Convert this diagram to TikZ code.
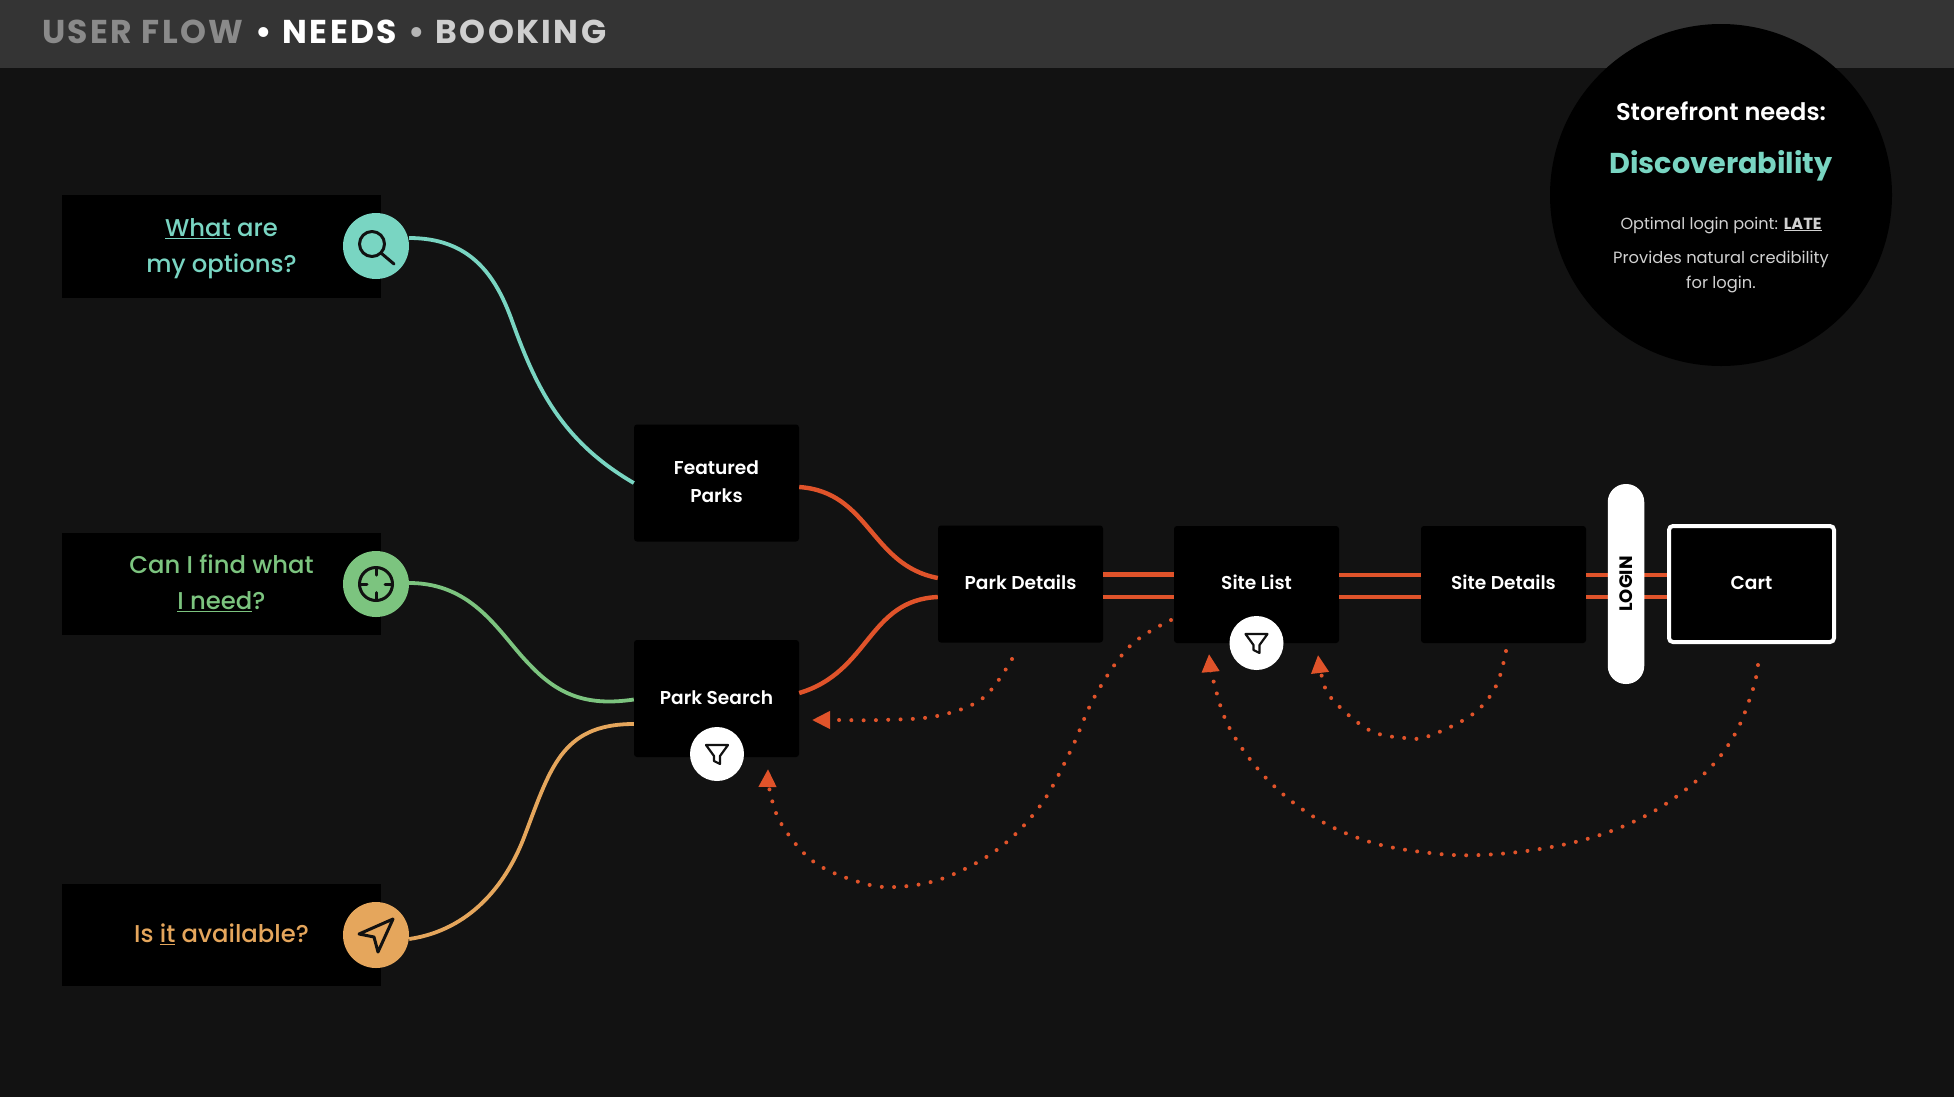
\documentclass[tikz,border=0pt]{standalone}
\usepackage{fontspec}
\setmainfont{Poppins}
\newfontfamily\pmed{Poppins Medium}
\newfontfamily\psemi{Poppins SemiBold}
\newfontfamily\pttl[LetterSpace=7.3]{Poppins}
\usetikzlibrary{arrows.meta,shapes.geometric}
\definecolor{bgc}{HTML}{121212}
\definecolor{hdr}{HTML}{343434}
\definecolor{teal}{HTML}{79D5C2}
\definecolor{grn}{HTML}{7CC47F}
\definecolor{org}{HTML}{E5A65C}
\definecolor{rd}{HTML}{E0532A}
\definecolor{ink}{HTML}{111111}
\tikzset{
  qbox/.style={fill=black,minimum width=319pt,minimum height=102.5pt,inner sep=0pt,align=center,font=\pmed\fontsize{24.3}{36}\selectfont},
  qicon/.style={circle,minimum size=66pt,inner sep=0pt},
  pagebox/.style={fill=black,rounded corners=3pt,minimum width=165pt,minimum height=117pt,inner sep=0pt,text=white,align=center,font=\psemi\fontsize{18.6}{28}\selectfont},
  filt/.style={circle,fill=white,minimum size=54pt,inner sep=0pt},
  iconline/.style={draw=ink,line width=3pt,line cap=round,line join=round},
  funnel/.pic={\draw[draw=ink,line width=2.2pt,line join=round] (-11,-9)--(11,-9)--(3,2)--(3,10)--(-3,7)--(-3,2)--cycle;},
  flow/.style={line width=3.8pt},
  redl/.style={draw=rd,line width=4.4pt},
  dots/.style={draw=rd,line width=4pt,line cap=round,dash pattern=on 0pt off 12.3pt,-{Triangle[length=18pt,width=17pt]}},
  sideline/.style={anchor=base,inner sep=0pt},
}
\begin{document}
\begin{tikzpicture}[x=1pt,y=-1pt]
\useasboundingbox (0,0) rectangle (1954,1096);
\fill[bgc] (-3,-3) rectangle (1957,1099);
\fill[hdr] (-3,-3) rectangle (1957,68);
\node[anchor=base west,inner sep=0pt] (title) at (42,43) {\pttl\bfseries\fontsize{33}{33}\selectfont\textcolor[HTML]{8A8A8A}{USER FLOW}\hspace{2.5pt} \textcolor{white}{•\hspace{1.5pt} NEEDS}\hspace{1.5pt} \textcolor[HTML]{B5B5B5}{•}\hspace{1.5pt} \textcolor[HTML]{CFCFCF}{BOOKING}};

% storefront circle
\node[circle,fill=black,minimum size=342pt,inner sep=0pt] (store) at (1721,195) {};
\node[sideline,text=white,font=\psemi\fontsize{24.1}{24.5}\selectfont] (s1) at (1721,120) {Storefront needs:};
\node[sideline,text=teal,font=\bfseries\fontsize{28.7}{29}\selectfont] (s2) at (1721,173) {Discoverability};
\node[sideline,text=white!82!black,font=\fontsize{16.1}{16.5}\selectfont] (s3) at (1721,229) {Optimal login point: \underline{\textbf{LATE}}};
\node[sideline,text=white!82!black,font=\fontsize{16.3}{16.5}\selectfont] (s4) at (1721,263) {Provides natural credibility};
\node[sideline,text=white!82!black,font=\fontsize{16.3}{16.5}\selectfont] (s5) at (1721,288.5) {for login.};

% question boxes
\node[qbox,text=teal] (q1) at (221.5,246.5) {\rule{0pt}{22pt}\underline{What} are\\my options?};
\node[qbox,text=grn] (q2) at (221.5,584) {Can I find what\\\underline{I need}?\rule[-4pt]{0pt}{1pt}};
\node[qbox,text=org,text height=16pt,text depth=0pt] (q3) at (221.5,934.8) {Is \underline{it} available?};
\node[qicon,fill=teal] (c1) at (376,246) {};
\node[qicon,fill=grn] (c2) at (376,584) {};
\node[qicon,fill=org] (c3) at (376,935) {};
% icons
\draw[iconline] (372,244) circle (12.5);
\draw[iconline] (381,253) -- (394,264);
\draw[iconline] (376,584) circle (16.5);
\draw[iconline] (376,567.5) -- (376,575) (376,592.5) -- (376,600) (359.5,584) -- (367,584) (385,584) -- (392.5,584);
\draw[iconline] (393,919) -- (359,934) -- (374,937) -- (378,952) -- cycle;

% page boxes
\node[pagebox] (feat) at (716.5,483) {Featured\\Parks\rule[-3pt]{0pt}{1pt}};
\node[pagebox,text height=11pt,text depth=0pt] (search) at (716.5,698.5) {Park Search};
\node[pagebox,text height=11pt,text depth=0pt] (details) at (1020.5,584) {Park Details};
\node[pagebox,text height=10pt,text depth=0pt] (list) at (1256.5,584.5) {Site List};
\node[pagebox,text height=10pt,text depth=0pt] (sdet) at (1503.5,584.5) {Site Details};
\node[pagebox,draw=white,line width=4pt,minimum width=165pt,minimum height=116pt,rounded corners=4pt,text height=11pt,text depth=0pt] (cart) at (1751.5,584) {Cart};

% flows
\draw[teal,flow] ([yshift=8pt]c1.east) .. controls (470,238) and (495,275) .. (511,318) .. controls (535,385) and (560,440) .. ([yshift=0pt]feat.west);
\draw[grn,flow] ([yshift=1pt]c2.east) .. controls (475,583) and (500,635) .. (530,665) .. controls (560,697) and (590,706) .. ([yshift=-1pt]search.west);
\draw[org,flow] ([yshift=-4pt]c3.east) .. controls (470,930) and (505,885) .. (523,840) .. controls (550,770) and (560,724) .. ([yshift=-25.5pt]search.west);
\draw[redl] ([yshift=-4pt]feat.east) .. controls (870,492) and (870,565) .. ([yshift=6pt]details.west);
\draw[redl] ([yshift=5.5pt]search.east) .. controls (870,672) and (868,600) .. ([yshift=-13pt]details.west);
\draw[redl] ([yshift=9.5pt]details.east) -- ([yshift=10pt]list.west);
\draw[redl] ([yshift=-13pt]details.east) -- ([yshift=-12.5pt]list.west);
\draw[redl] ([yshift=9.5pt]list.east) -- ([yshift=9.5pt]sdet.west);
\draw[redl] ([yshift=-12.5pt]list.east) -- ([yshift=-12.5pt]sdet.west);
\draw[redl] ([yshift=9.5pt]sdet.east) -- ([yshift=9pt]cart.west);
\draw[redl] ([yshift=-12.5pt]sdet.east) -- ([yshift=-13pt]cart.west);

% login pill and filters
\node[fill=white,rotate=90,minimum width=200pt,minimum height=36.5pt,rounded corners=18pt,inner sep=0pt,text=black,font=\bfseries\fontsize{18}{18}\selectfont] (login) at (1626,584) {LOGIN};
\node[filt] (f1) at (717,754) {};
\pic at (717,754) {funnel};
\node[filt] (f2) at (1256.5,643) {};
\pic at (1256.5,643) {funnel};

% return paths
\coordinate (d1s) at (1012,659); \coordinate (d1e) at (812,720);
\coordinate (d2s) at (1171,620); \coordinate (d2e) at (768,769);
\coordinate (d3s) at (1506,651); \coordinate (d3e) at (1318,655);
\coordinate (d4s) at (1758,665); \coordinate (d4e) at (1209,654);
\draw[dots] plot[smooth,tension=0.6] coordinates {(d1s) (983,698) (937,716) (880,720) (840,720) (d1e)};
\draw[dots] plot[smooth,tension=0.6] coordinates {(d2s) (1130,646) (1095,696) (1070,752) (1040,806) (998,849) (944,878) (895,887) (859,882) (814,862) (782,825) (770,792) (d2e)};
\draw[dots] plot[smooth,tension=0.6] coordinates {(d3s) (1496,686) (1473,714) (1429,736) (1405,738) (1369,730) (1332,699) (1322,677) (d3e)};
\draw[dots] plot[smooth,tension=0.6] coordinates {(d4s) (1753,689) (1735,734) (1705,773) (1656,810) (1600,835) (1540,849) (1480,855) (1430,853) (1370,842) (1314,817) (1266,778) (1230,729) (1214,683) (d4e)};
\end{tikzpicture}
\end{document}
